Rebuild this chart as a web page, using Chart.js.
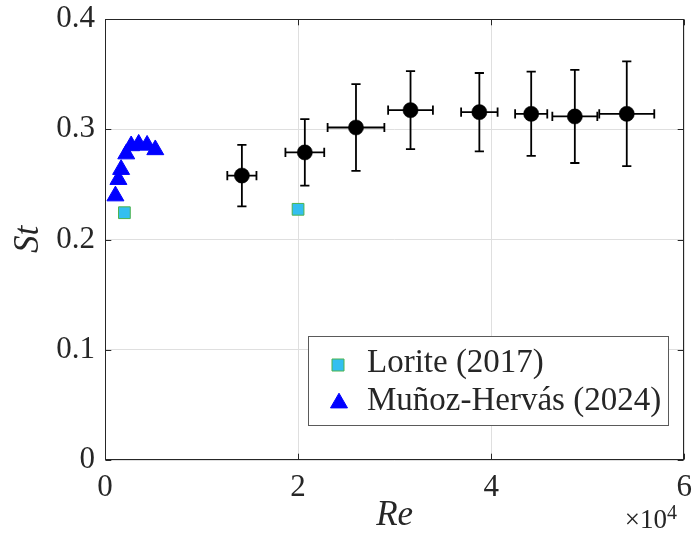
<!DOCTYPE html>
<html><head><meta charset="utf-8">
<script src="https://cdn.jsdelivr.net/npm/chart.js@4.4.1/dist/chart.umd.min.js"></script>
<style>html,body{margin:0;padding:0;background:#fff;} canvas{display:block;}</style>
</head><body>
<canvas id="c" width="695" height="545"></canvas>
<script>
const xTickLabels = ['0','2','4','6'];
const yTickLabels = ['0','0.1','0.2','0.3','0.4'];
const loriteRe = [2010, 20000];
const loriteSt = [0.2243, 0.2274];
const munozRe = [1080, 1390, 1670, 2200, 2710, 3490, 4360, 5210];
const munozSt = [0.2395, 0.2544, 0.2635, 0.2776, 0.2850, 0.2864, 0.2855, 0.2814];
const presentRe = [14180, 20700, 26000, 31650, 38780, 44150, 48670, 54050];
const presentSt = [0.2580, 0.2790, 0.3016, 0.3173, 0.3155, 0.3140, 0.3116, 0.3140];
const presentReErr = [1510, 2010, 2940, 2320, 1890, 1665, 2330, 2850];
const presentStErr = [0.0279, 0.0302, 0.0393, 0.0354, 0.0355, 0.0382, 0.0422, 0.0475];
const seriesLabels = ['Lorite (2017)', 'Muñoz-Hervás (2024)'];

const TEXT = '#262626';
const SERIF = '"Liberation Serif", "Times New Roman", serif';

const pts = (xs, ys) => xs.map((x, i) => ({x: x, y: ys[i]}));

const errorBars = {
  id: 'errorBars',
  beforeDatasetDraw(chart, args) {
    if (args.index !== 2) return;
    const ctx = chart.ctx, xs = chart.scales.x, ys = chart.scales.y;
    ctx.save();
    ctx.strokeStyle = '#000';
    ctx.lineWidth = 1.8;
    const cap = 4.6;
    presentRe.forEach((re, i) => {
      const px = xs.getPixelForValue(re), py = ys.getPixelForValue(presentSt[i]);
      const x1 = xs.getPixelForValue(re - presentReErr[i]), x2 = xs.getPixelForValue(re + presentReErr[i]);
      const y1 = ys.getPixelForValue(presentSt[i] + presentStErr[i]), y2 = ys.getPixelForValue(presentSt[i] - presentStErr[i]);
      ctx.beginPath();
      ctx.moveTo(px, y1); ctx.lineTo(px, y2);
      ctx.moveTo(px - cap, y1); ctx.lineTo(px + cap, y1);
      ctx.moveTo(px - cap, y2); ctx.lineTo(px + cap, y2);
      ctx.moveTo(x1, py); ctx.lineTo(x2, py);
      ctx.moveTo(x1, py - cap); ctx.lineTo(x1, py + cap);
      ctx.moveTo(x2, py - cap); ctx.lineTo(x2, py + cap);
      ctx.stroke();
    });
    ctx.restore();
  }
};

const frame = {
  id: 'frame',
  afterDraw(chart) {
    const ctx = chart.ctx, a = chart.chartArea, xs = chart.scales.x, ys = chart.scales.y;
    ctx.save();
    ctx.strokeStyle = TEXT;
    ctx.lineWidth = 1;
    const L = Math.round(a.left) + 0.5, R = Math.round(a.right) - 0.5, T = Math.round(a.top) + 0.5, B = Math.round(a.bottom) - 0.5;
    ctx.strokeRect(L, T, R - L, B - T);
    const tl = 5.8;
    ctx.beginPath();
    xs.ticks.forEach(t => {
      const p = Math.round(xs.getPixelForValue(t.value)) + 0.5;
      ctx.moveTo(p, B); ctx.lineTo(p, B - tl);
      ctx.moveTo(p, T); ctx.lineTo(p, T + tl);
    });
    ys.ticks.forEach(t => {
      const p = Math.round(ys.getPixelForValue(t.value)) + 0.5;
      ctx.moveTo(L, p); ctx.lineTo(L + tl, p);
      ctx.moveTo(R, p); ctx.lineTo(R - tl, p);
    });
    ctx.stroke();

    // exponent label
    ctx.fillStyle = TEXT;
    ctx.textBaseline = 'alphabetic';
    ctx.font = '20px ' + SERIF;
    const supW = ctx.measureText('4').width;
    ctx.textAlign = 'left';
    const endX = 677;
    ctx.fillText('4', endX - supW, 519);
    ctx.font = '27px ' + SERIF;
    ctx.textAlign = 'right';
    ctx.fillText('\u00D710', endX - supW, 528);

    // legend
    const bx = 308.5, by = 336.5, bw = 360, bh = 89;
    ctx.fillStyle = '#fff';
    ctx.fillRect(bx, by, bw, bh);
    ctx.strokeStyle = '#5a5a5a';
    ctx.lineWidth = 1;
    ctx.strokeRect(bx, by, bw, bh);
    const d0 = chart.data.datasets[0], d1 = chart.data.datasets[1];
    ctx.fillStyle = d0.backgroundColor;
    ctx.strokeStyle = d0.borderColor;
    ctx.lineWidth = d0.borderWidth;
    ctx.beginPath(); ctx.rect(332, 359, 12, 12); ctx.fill(); ctx.stroke();
    const r = d1.pointRadius, cx = 339, cy = 403;
    ctx.fillStyle = d1.backgroundColor;
    ctx.strokeStyle = d1.borderColor;
    ctx.lineWidth = d1.borderWidth;
    ctx.beginPath();
    ctx.moveTo(cx, cy - r);
    ctx.lineTo(cx + r * Math.sqrt(3) / 2, cy + r / 2);
    ctx.lineTo(cx - r * Math.sqrt(3) / 2, cy + r / 2);
    ctx.closePath(); ctx.fill(); ctx.stroke();
    ctx.fillStyle = TEXT;
    ctx.font = '33px ' + SERIF;
    ctx.textAlign = 'left';
    ctx.textBaseline = 'alphabetic';
    ctx.fillText(d0.label, 367, 372);
    ctx.fillText(d1.label, 367, 410);
    ctx.restore();
  }
};

function zeroPad(s) { s.paddingLeft = 0; s.paddingRight = 0; s.paddingTop = 0; s.paddingBottom = 0; }

new Chart(document.getElementById('c'), {
  type: 'scatter',
  data: {
    datasets: [
      { label: seriesLabels[0], data: pts(loriteRe, loriteSt), pointStyle: 'rect', pointRadius: 8.3,
        backgroundColor: '#33bff0', borderColor: '#4db34d', borderWidth: 1, pointHoverRadius: 8.3 },
      { label: seriesLabels[1], data: pts(munozRe, munozSt), pointStyle: 'triangle', pointRadius: 9.8,
        backgroundColor: '#0000ff', borderColor: '#0000ff', borderWidth: 1, pointHoverRadius: 9.8 },
      { label: 'Present', data: pts(presentRe, presentSt), pointStyle: 'circle', pointRadius: 7.6,
        backgroundColor: '#000', borderColor: '#000', borderWidth: 0.5, pointHoverRadius: 7.6 }
    ]
  },
  options: {
    responsive: false,
    devicePixelRatio: 1,
    animation: false,
    events: [],
    layout: { padding: { top: 19, right: 8, left: 0, bottom: 0 } },
    plugins: { legend: { display: false }, tooltip: { enabled: false } },
    scales: {
      x: {
        type: 'linear', min: 0, max: 60000,
        afterFit: s => { s.height = 85; zeroPad(s); },
        ticks: { stepSize: 20000, padding: 9, color: TEXT, font: { family: SERIF, size: 31 },
          callback: (v, i) => xTickLabels[i], maxRotation: 0, autoSkip: false },
        grid: { color: '#dfdfdf', drawTicks: false, lineWidth: 1 },
        border: { display: false },
        title: { display: true, text: 'Re', color: TEXT, font: { family: SERIF, size: 35, style: 'italic' },
          padding: { top: 0, bottom: 8 } }
      },
      y: {
        type: 'linear', min: 0, max: 0.4,
        afterFit: s => { s.width = 105; zeroPad(s); },
        ticks: { stepSize: 0.1, padding: 10, color: TEXT, font: { family: SERIF, size: 31 },
          callback: (v, i) => yTickLabels[i], autoSkip: false },
        grid: { color: '#dfdfdf', drawTicks: false, lineWidth: 1 },
        border: { display: false },
        title: { display: true, text: 'St', color: TEXT, font: { family: SERIF, size: 35, style: 'italic' },
          padding: { top: 8, bottom: 0 } }
      }
    }
  },
  plugins: [errorBars, frame]
});
</script>
</body></html>
